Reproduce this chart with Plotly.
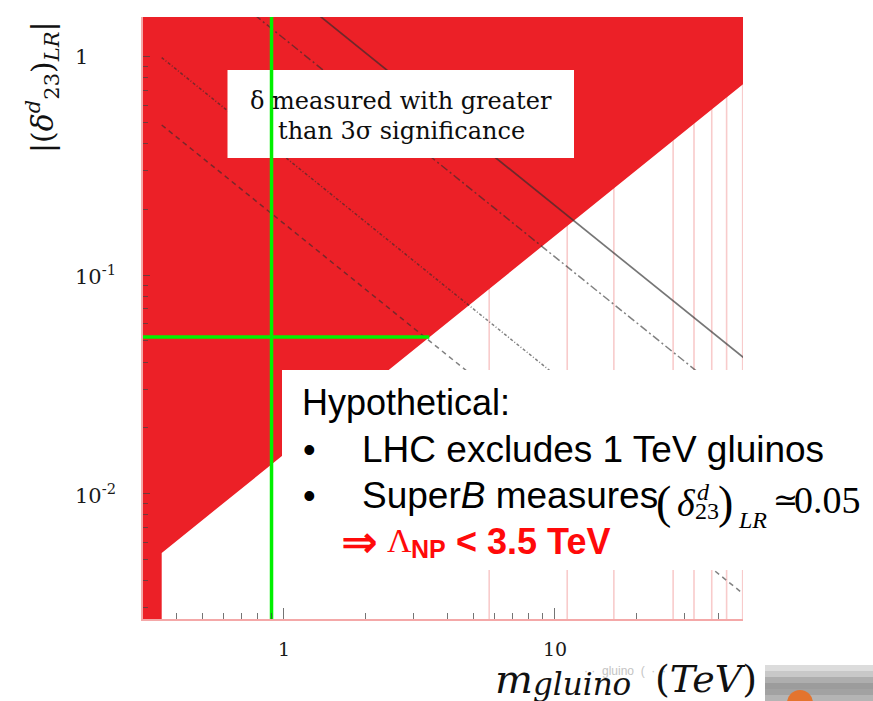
import numpy as np
import plotly.graph_objects as go

# ---------------- data ----------------
X_RANGE_LOG = [-0.52, 1.694]      # m_gluino 0.3 .. ~49 TeV
Y_RANGE_LOG = [-2.574, 0.181]     # delta 0.0027 .. ~1.5

X_TICKS = [1, 10]
X_TICK_TEXT = ["1", "10"]
X_MINOR = [0.4, 0.5, 0.6, 0.7, 0.8, 0.9, 2, 3, 4, 5, 6, 7, 8, 9, 20, 30, 40]
Y_TICKS = [1, 0.1, 0.01]
Y_TICK_TEXT = ["1", "10<sup>-1</sup>", "10<sup>-2</sup>"]
Y_MINOR = [0.003, 0.004, 0.005, 0.006, 0.007, 0.008, 0.009,
           0.02, 0.03, 0.04, 0.05, 0.06, 0.07, 0.08, 0.09,
           0.2, 0.3, 0.4, 0.5, 0.6, 0.7, 0.8, 0.9]

# red region (delta measured > 3 sigma)
REGION_M = [0.2, 0.2, 60.0, 60.0, 0.354, 0.354]
REGION_D = [0.001, 3.0, 3.0, 0.906, 0.00535, 0.001]

# constant-scale contours
CONTOUR_A_M = [0.3, 60.0]
CONTOUR_A_D = [6.93, 0.0347]
CONTOUR_B_M = [0.3, 60.0]
CONTOUR_B_D = [4.03, 0.0202]
CONTOUR_C_M = [0.354, 60.0]
CONTOUR_C_D = [0.989, 0.00583]
CONTOUR_D_M = [0.354, 60.0]
CONTOUR_D_D = [0.486, 0.00287]

# faint vertical lines
PINK_M = [5.72, 11.1, 16.5, 27.3, 32.6, 37.9, 43.0, 49.3]

# hypothetical measurement (green lines)
GLUINO_LIMIT_M = [0.9, 0.9]
GLUINO_LIMIT_D = [0.001, 3.0]
DELTA_MEAS_M = [0.2, 3.44]
DELTA_MEAS_D = [0.052, 0.052]

RED = "#EC2027"
GREEN = "#00F000"

# ---------------- layout helpers ----------------
L, R, T, B = 143, 130, 17, 82
W, H = 873, 701
PW, PH = W - L - R, H - T - B


def px(xp):
    return (xp - L) / PW


def py(yp):
    return (H - B - yp) / PH


def m_at(xp):
    return 10 ** (X_RANGE_LOG[0] + (xp - L) / PW * (X_RANGE_LOG[1] - X_RANGE_LOG[0]))


def d_at(yp):
    return 10 ** (Y_RANGE_LOG[1] - (yp - T) / PH * (Y_RANGE_LOG[1] - Y_RANGE_LOG[0]))


fig = go.Figure()

# pink vertical lines
pxs, pys = [], []
for m in PINK_M:
    pxs += [m, m, None]
    pys += [0.001, 3.0, None]
fig.add_trace(go.Scatter(x=pxs, y=pys, mode="lines",
                         line=dict(color="rgba(240,140,140,0.45)", width=1.6),
                         hoverinfo="skip"))

# red region
fig.add_trace(go.Scatter(x=REGION_M, y=REGION_D, mode="lines", fill="toself",
                         fillcolor=RED, line=dict(width=0, color=RED),
                         hoverinfo="skip"))

# contours
contour_style = [
    (CONTOUR_A_M, CONTOUR_A_D, "solid", 1.7, "rgba(45,45,45,0.65)"),
    (CONTOUR_B_M, CONTOUR_B_D, "8px,3px,2px,3px", 1.5, "rgba(45,45,45,0.6)"),
    (CONTOUR_C_M, CONTOUR_C_D, "3px,2px,1px,2px", 1.5, "rgba(45,45,45,0.6)"),
    (CONTOUR_D_M, CONTOUR_D_D, "5px,4px", 1.5, "rgba(45,45,45,0.6)"),
]
for mx, dy, dash, w, c in contour_style:
    fig.add_trace(go.Scatter(x=mx, y=dy, mode="lines",
                             line=dict(color=c, width=w, dash=dash),
                             hoverinfo="skip"))

# box 1 (white label box) drawn as a filled trace so the green line can sit above it
bx0, bx1, by0, by1 = m_at(227.5), m_at(574), d_at(70), d_at(158)
fig.add_trace(go.Scatter(x=[bx0, bx1, bx1, bx0, bx0], y=[by0, by0, by1, by1, by0],
                         mode="lines", fill="toself", fillcolor="white",
                         line=dict(width=0, color="white"), hoverinfo="skip"))

# green lines
fig.add_trace(go.Scatter(x=GLUINO_LIMIT_M, y=GLUINO_LIMIT_D, mode="lines",
                         line=dict(color=GREEN, width=3.5), hoverinfo="skip"))
fig.add_trace(go.Scatter(x=DELTA_MEAS_M, y=DELTA_MEAS_D, mode="lines",
                         line=dict(color=GREEN, width=3.5), hoverinfo="skip"))

shapes = []
# box 2
shapes.append(dict(type="rect", xref="paper", yref="paper", layer="above",
                   x0=px(282), x1=px(880), y0=py(570), y1=py(370),
                   fillcolor="white", line=dict(width=0)))
# slide button (bottom right)
grays = ["#dcdcdc", "#c8c8c8", "#aeaeae", "#9c9c9c", "#a2a2a2", "#b4b4b4"]
y_top = 665
for i, g in enumerate(grays):
    shapes.append(dict(type="rect", xref="paper", yref="paper", layer="above",
                       x0=px(765), x1=px(880), y0=py(y_top + 6 * (i + 1)), y1=py(y_top + 6 * i),
                       fillcolor=g, line=dict(width=0)))
shapes.append(dict(type="circle", xref="paper", yref="paper", layer="above",
                   x0=px(787), x1=px(813), y0=py(716), y1=py(690),
                   fillcolor="#E4742E", line=dict(width=0)))

ann = []


def add_text(text, x, y, size, family, color="black", xanchor="left", yanchor="middle",
             xref="paper", yref="paper", angle=0):
    ann.append(dict(text=text, x=x, y=y, xref=xref, yref=yref, showarrow=False,
                    xanchor=xanchor, yanchor=yanchor, textangle=angle,
                    font=dict(size=size, family=family, color=color)))


# box 1 text
add_text("δ measured with greater", px(401), py(101), 24, "DejaVu Serif", "#0d0d0d", xanchor="center")
add_text("than 3σ significance", px(401), py(131), 24, "DejaVu Serif", "#0d0d0d", xanchor="center")

# y tick labels
for v, t in zip(Y_TICKS, Y_TICK_TEXT):
    add_text(t, px(73), np.log10(v), 21, "DejaVu Serif", "#1a1a1a", yref="y")
# x tick labels
for v, t in zip(X_TICKS, X_TICK_TEXT):
    add_text(t, np.log10(v), py(649), 19, "DejaVu Serif", "#1a1a1a", xanchor="center", xref="x")

# axis titles
add_text("|(<i>δ</i><sup><i>d</i></sup><sub>23</sub>)<sub><i>LR</i></sub>|",
         px(43), py(87), 30, "DejaVu Serif", "#111", xanchor="center", angle=-90)
add_text("· ·  gluino  (  ·  ·", px(625), py(671), 12, "Liberation Sans", "#c4c4c4", xanchor="center")
add_text("<i>m</i>", px(493), py(679), 40, "DejaVu Serif", "#111")
add_text("<i>gluino</i>", px(531), py(684), 31, "DejaVu Serif", "#111")
add_text("(<i>TeV</i>)", px(653), py(679), 38, "DejaVu Serif", "#111")

# box 2 text
SANS = "Liberation Sans"
SERIF = "Liberation Serif"
add_text("Hypothetical:", px(300), py(402), 36, SANS)
add_text("•", px(301), py(449), 36, SANS)
add_text("LHC excludes 1 TeV gluinos", px(360), py(449), 37, SANS)
add_text("•", px(301), py(495), 36, SANS)
add_text("Super<i>B</i> measures", px(360), py(495), 37, SANS)
add_text("(", px(654), py(502), 46, SERIF)
add_text("<i>δ</i>", px(675), py(503), 38, SERIF)
add_text("<i>d</i>", px(695), py(492), 24, SERIF)
add_text("23", px(693), py(511), 24, SERIF)
add_text(")", px(716), py(502), 46, SERIF)
add_text("<i>LR</i>", px(736), py(520), 24, SERIF)
add_text("≃", px(771), py(499), 30, "DejaVu Serif")
add_text("0.05", px(792), py(500), 38, SERIF)

RED_TXT = "#FF0A0A"
add_text("<b>⇒</b>", px(339), py(541), 44, "DejaVu Sans", RED_TXT)
add_text("Λ", px(385), py(540), 34, SERIF, RED_TXT)
add_text("<b>NP</b>", px(409), py(549), 25, SANS, RED_TXT)
add_text("<b>< 3.5 TeV</b>", px(454), py(541), 36, SANS, RED_TXT)

tick_c = "rgba(70,70,70,0.75)"
fig.update_layout(
    width=W, height=H,
    margin=dict(l=L, r=R, t=T, b=B),
    paper_bgcolor="white", plot_bgcolor="white",
    showlegend=False,
    shapes=shapes, annotations=ann,
    xaxis=dict(type="log", range=X_RANGE_LOG, tickvals=X_TICKS, ticktext=X_TICK_TEXT,
               showticklabels=False, ticks="inside", ticklen=11, tickwidth=1.3,
               tickcolor=tick_c, showgrid=False, zeroline=False,
               showline=True, linecolor="#F4A8A8", linewidth=2,
               minor=dict(tickvals=X_MINOR, ticks="inside", ticklen=6, tickwidth=1.3,
                          tickcolor=tick_c, showgrid=False)),
    yaxis=dict(type="log", range=Y_RANGE_LOG, tickvals=Y_TICKS, ticktext=Y_TICK_TEXT,
               showticklabels=False, ticks="inside", ticklen=7, tickwidth=1.3,
               tickcolor=tick_c, showgrid=False, zeroline=False,
               showline=True, linecolor="#F4A8A8", linewidth=2,
               minor=dict(tickvals=Y_MINOR, ticks="inside", ticklen=5, tickwidth=1.3,
                          tickcolor=tick_c, showgrid=False)),
)

fig.write_html("out.html", config={"displayModeBar": False})
